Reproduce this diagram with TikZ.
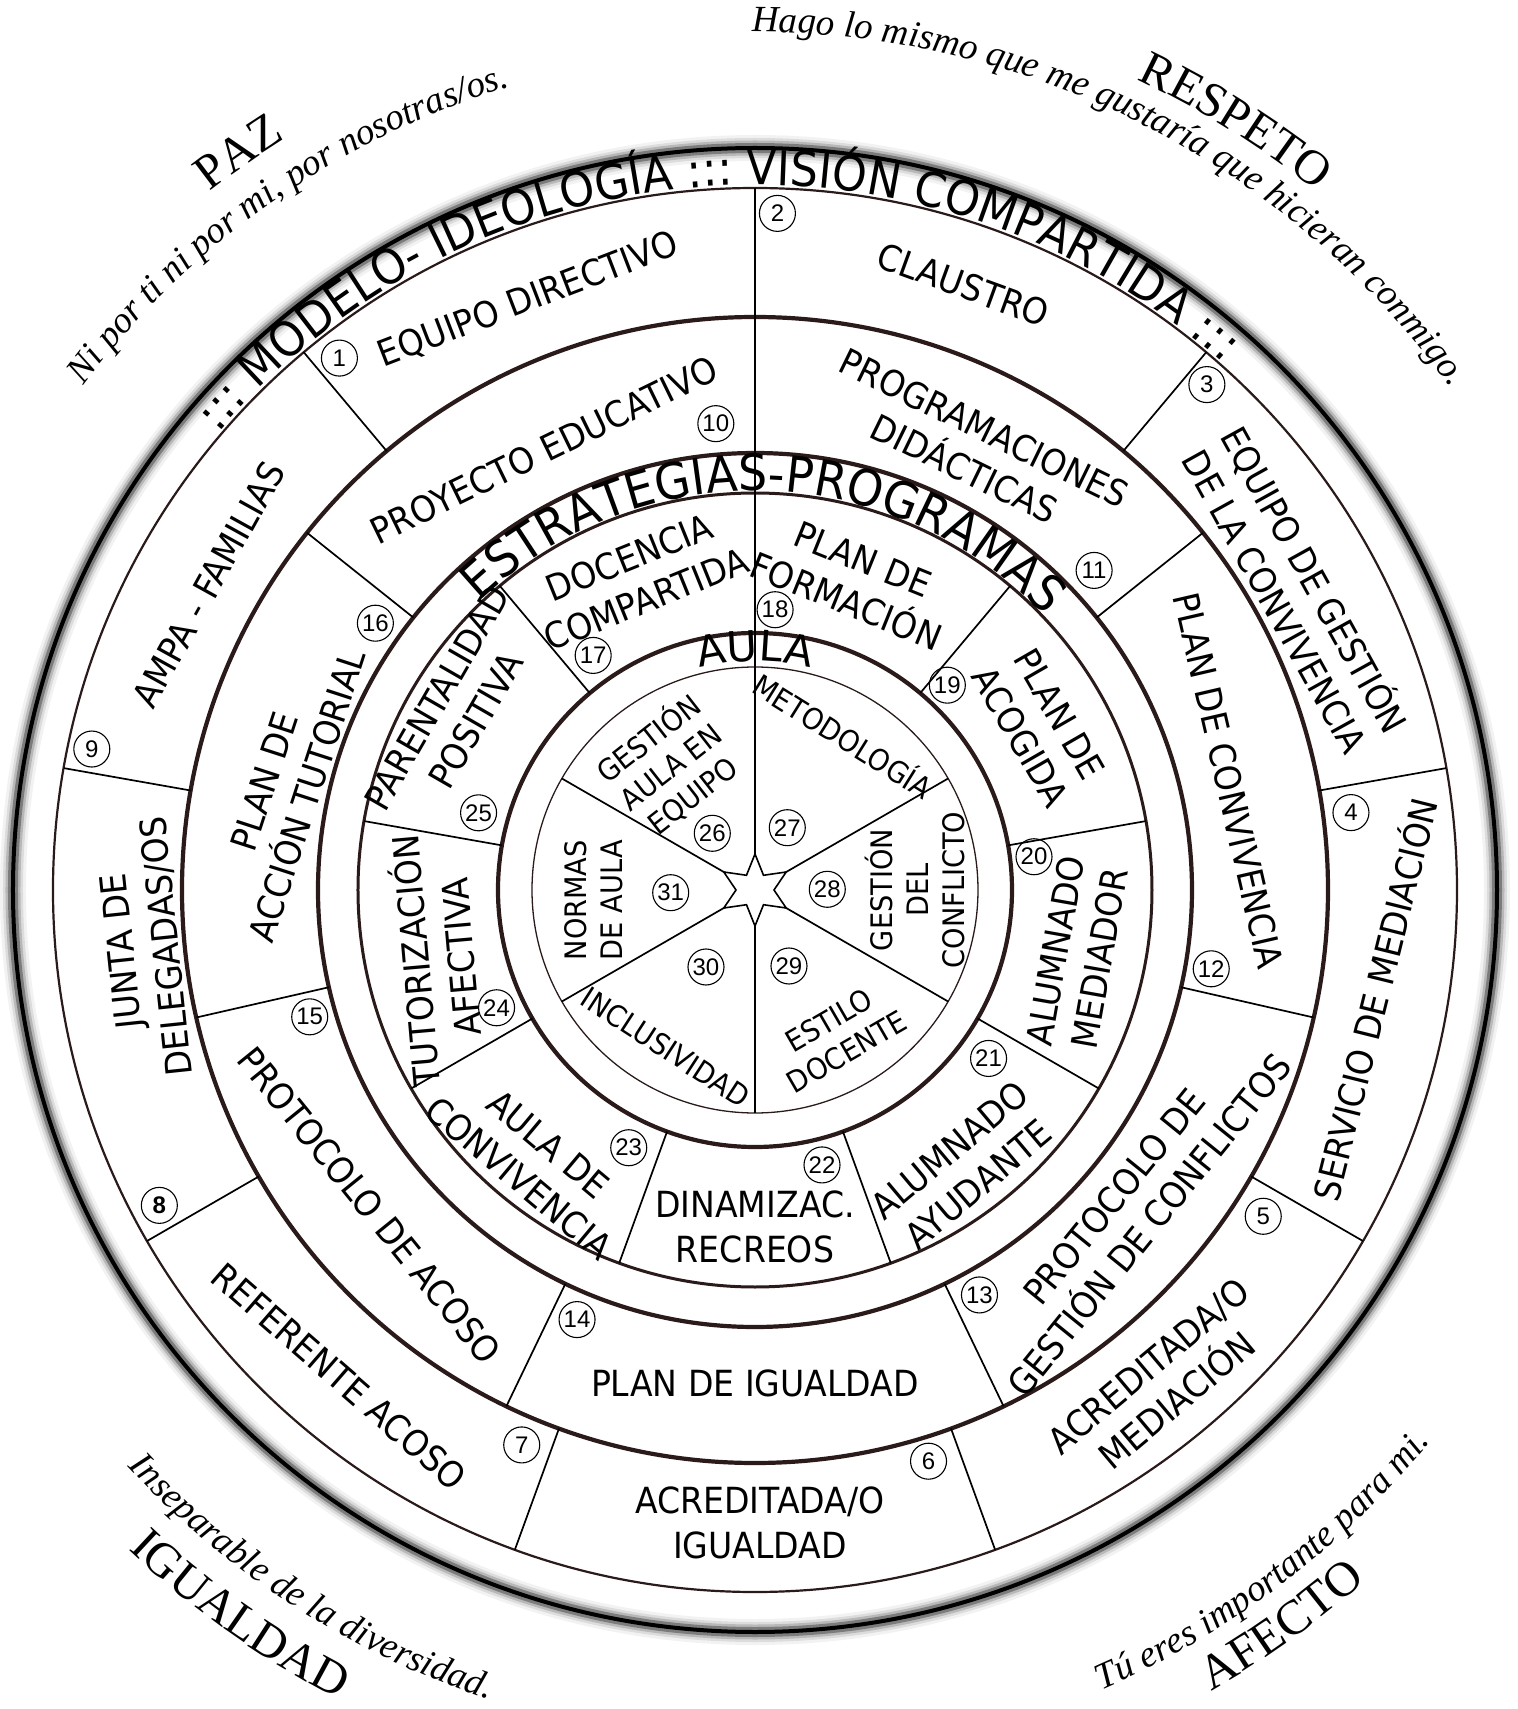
\documentclass[tikz,border=0pt]{standalone}
\usepackage{fontspec}
\setmainfont{DejaVu Sans}
\newfontfamily\labf[FakeStretch=0.92]{DejaVu Sans}
\newfontfamily\labn{DejaVu Sans}
\newfontfamily\numf{Liberation Sans}
\newfontfamily\serf{Liberation Serif}
\usetikzlibrary{decorations.text}
\definecolor{ringc}{HTML}{2B1A1A}
\begin{document}
\begin{tikzpicture}[x=0.5pt,y=0.5pt,
  lab/.style={font=\labf\fontsize{18}{22.5}\selectfont, align=center, inner sep=0pt},
  pie/.style={font=\labf\fontsize{14.8}{18}\selectfont, align=center, inner sep=0pt},
  num/.style={circle, draw=black, line width=0.55pt, minimum size=18pt, inner sep=0pt, font=\numf\fontsize{12}{12}\selectfont},
  thinring/.style={draw=ringc, line width=1.1pt},
  thickring/.style={draw=ringc, line width=2.1pt},
  divider/.style={draw=black, line width=0.85pt},
  quote/.style={decorate, decoration={text along path, text align=center, text={#1}}},
]
\fill[white] (-755,-819) rectangle (762,890);
\useasboundingbox (-755,-819) rectangle (762,890);

% outer soft circle
\foreach \w/\o in {13/0.05,10/0.09,7.5/0.16,5/0.32} {
  \draw[line width=\w pt, draw=black, draw opacity=\o] (0,0) circle[radius=742];
}
\draw[line width=2pt, black] (0,0) circle[radius=742];

% rings
\draw[thinring] (0,0) circle[radius=702];
\draw[thickring] (0,0) circle[radius=573];
\draw[thickring] (0,0) circle[radius=437];
\draw[draw=ringc, line width=1.5pt] (0,0) circle[radius=397];
\draw[thickring] (0,0) circle[radius=257];
\draw[draw=ringc, line width=0.65pt] (0,0) circle[radius=223];

% dividers
\foreach \a in {90,50,10,-30,-70,-110,-150,-190,-230}
  \draw[divider] (\a:573) -- (\a:702);
\foreach \a in {90,38.571,-12.857,-64.286,-115.714,-167.143,-218.571}
  \draw[divider] (\a:437) -- (\a:573);
\draw[divider] (90:397) -- (90:437);
\foreach \a in {90,50,10,-30,-70,-110,-150,-190,-230}
  \draw[divider] (\a:257) -- (\a:397);
\draw[divider] (90:223) -- (90:257);
\foreach \a in {90,30,-30,-90,-150,150}
  \draw[divider] (\a:34) -- (\a:223);

% star
\draw[line width=0.8pt, fill=white] (30:36) -- (60:17) -- (90:36) -- (120:17) -- (150:36) -- (180:19)
  -- (210:36) -- (240:17) -- (270:36) -- (300:17) -- (330:36) -- (0:19) -- cycle;

% curved titles
\path[quote={|\labf\fontsize{24}{24}\selectfont|::: MODELO- IDEOLOGÍA ::: VISIÓN COMPARTIDA :::}]
  (180:705) arc[start angle=180, end angle=8, radius=705];
\path[quote={|\labf\fontsize{25}{25}\selectfont|ESTRATEGIAS-PROGRAMAS}]
  (168.5:399) arc[start angle=168.5, end angle=8.5, radius=399];
\path[quote={|\labn\fontsize{21}{21}\selectfont|AULA}]
  (150:229) arc[start angle=150, end angle=30, radius=229];

% outer quotes
\path[quote={|\serf\itshape\fontsize{18.5}{18.5}\selectfont|Hago lo mismo que me gustaría que hicieran conmigo.}]
  (113:858) arc[start angle=113, end angle=13, radius=858];
\path[quote={|\serf\itshape\fontsize{18.5}{18.5}\selectfont|Ni por ti ni por mi, por nosotras/os.}]
  (175:840) arc[start angle=175, end angle=75, radius=840];
\path[quote={|\serf\fontsize{24.5}{24.5}\selectfont|PAZ}]
  (165:886) arc[start angle=165, end angle=85, radius=886];
\path[quote={|\serf\fontsize{24.5}{24.5}\selectfont|RESPETO}]
  (98:896) arc[start angle=98, end angle=18, radius=896];
\path[quote={|\serf\itshape\fontsize{18.5}{18.5}\selectfont|Inseparable de la diversidad.}]
  (197.2:852) arc[start angle=197.2, end angle=277.2, radius=852];
\path[quote={|\serf\fontsize{24.5}{24.5}\selectfont|IGUALDAD}]
  (194.6:910) arc[start angle=194.6, end angle=274.6, radius=910];
\path[quote={|\serf\itshape\fontsize{18.5}{18.5}\selectfont|Tú eres importante para mi.}]
  (-92.9:872) arc[start angle=-92.9, end angle=-12.9, radius=872];
\path[quote={|\serf\fontsize{24.5}{24.5}\selectfont|AFECTO}]
  (-94.4:922) arc[start angle=-94.4, end angle=-14.4, radius=922];

% outer ring labels
\node[lab, rotate=21] (l1) at (111:632) {EQUIPO DIRECTIVO};
\node[lab, rotate=-20] (l2) at (71:640) {CLAUSTRO};
\node[lab, rotate=-61] (l3) at (29:620) {EQUIPO DE GESTIÓN\\DE LA CONVIVENCIA};
\node[lab, rotate=76] (l4) at (-10:627) {SERVICIO DE MEDIACIÓN};
\node[lab, rotate=40] (l5) at (-50.4:640) {ACREDITADA/O\\MEDIACIÓN};
\node[lab] (l6) at (5,-633) {ACREDITADA/O\\IGUALDAD};
\node[lab, rotate=-41] (l7) at (-130.5:640) {REFERENTE ACOSO};
\node[lab, rotate=96] (l8) at (-174.5:613) {JUNTA DE\\DELEGADAS/OS};
\node[lab, rotate=61] (l9) at (150.8:626) {AMPA - FAMILIAS};

% second ring
\node[lab, rotate=26] (l10) at (115.6:488) {PROYECTO EDUCATIVO};
\node[lab, rotate=-26] (l11) at (63.6:493) {PROGRAMACIONES\\DIDÁCTICAS};
\node[lab, rotate=-77] (l12) at (13:486) {PLAN DE CONVIVENCIA};
\node[lab, rotate=51] (l13) at (-40.4:495) {PROTOCOLO DE\\GESTIÓN DE CONFLICTOS};
\node[lab] (l14) at (0,-493) {PLAN DE IGUALDAD};
\node[lab, rotate=-51] (l15) at (-140.7:498) {PROTOCOLO DE ACOSO};
\node[lab, rotate=72] (l16) at (167.8:480) {PLAN DE\\ACCIÓN TUTORIAL};

% strategy ring
\node[lab, rotate=22] (l17) at (110.6:333) {DOCENCIA\\COMPARTIDA};
\node[lab, rotate=-22] (l18) at (72.2:325) {PLAN DE\\FORMACIÓN};
\node[lab, rotate=-60] (l19) at (30:329) {PLAN DE\\ACOGIDA};
\node[lab, rotate=80] (l20) at (-11.3:329) {ALUMNADO\\MEDIADOR};
\node[lab, rotate=40] (l21) at (-53:347) {ALUMNADO\\AYUDANTE};
\node[lab] (l22) at (0,-337) {DINAMIZAC.\\RECREOS};
\node[lab, rotate=-40] (l23) at (-129.2:350) {AULA DE\\CONVIVENCIA};
\node[lab, rotate=95] (l24) at (-167.8:327) {TUTORIZACIÓN\\AFECTIVA};
\node[lab, rotate=60] (l25) at (148.8:349) {PARENTALIDAD\\POSITIVA};

% pie
\node[pie, rotate=38] (p26) at (124.5:150) {GESTIÓN\\AULA EN\\EQUIPO};
\node[pie, rotate=-32] (p27) at (60.2:179) {METODOLOGÍA};
\node[pie, rotate=90] (p28) at (0:160) {GESTIÓN\\DEL\\CONFLICTO};
\node[pie, rotate=30] (p29) at (-60.4:168) {ESTILO\\DOCENTE};
\node[pie, rotate=-33] (p30) at (-119.5:181) {INCLUSIVIDAD};
\node[pie, rotate=90] (p31) at (-176.4:162) {NORMAS\\DE AULA};

% numbers
\node[num] (n1) at (128:675) {1};
\node[num] (n2) at (88.1:677) {2};
\node[num] (n3) at (48.2:678) {3};
\node[num] (n4) at (7.4:601) {4};
\node[num] (n5) at (-32.7:604) {5};
\node[num] (n6) at (-73.1:597) {6};
\node[num] (n7) at (-112.8:602) {7};
\node[num, font=\numf\bfseries\fontsize{12}{12}\selectfont] (n8) at (-152.1:674) {8};
\node[num] (n9) at (168:678) {9};
\node[num] (n10) at (94.8:468) {10};
\node[num] (n11) at (43.3:466) {11};
\node[num] (n12) at (-9.8:463) {12};
\node[num] (n13) at (-61:463) {13};
\node[num] (n14) at (-112.5:465) {14};
\node[num] (n15) at (-164.1:463) {15};
\node[num] (n16) at (144.9:464) {16};
\node[num] (n17) at (124.6:285) {17};
\node[num] (n18) at (85.9:281) {18};
\node[num] (n19) at (46.8:281) {19};
\node[num] (n20) at (6.8:281) {20};
\node[num] (n21) at (-35.8:288) {21};
\node[num] (n22) at (-76.3:283) {22};
\node[num] (n23) at (-116.1:287) {23};
\node[num] (n24) at (-155.5:284) {24};
\node[num] (n25) at (164.4:287) {25};
\node[num] (n26) at (-42.7,56.7) {26};
\node[num] (n27) at (32.3,62.3) {27};
\node[num] (n28) at (72.3,0.7) {28};
\node[num] (n29) at (34,-76) {29};
\node[num] (n30) at (-49,-77) {30};
\node[num] (n31) at (-84.3,-2.7) {31};
\end{tikzpicture}
\end{document}
